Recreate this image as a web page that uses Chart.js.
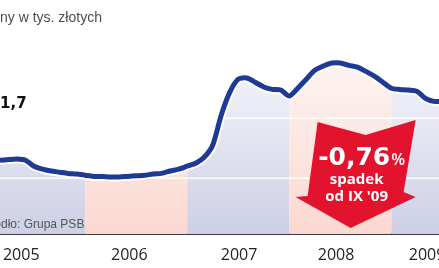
<!DOCTYPE html>
<html>
<head>
<meta charset="utf-8">
<script src="https://cdn.jsdelivr.net/npm/chart.js@4"></script>
<style>
  html, body { margin: 0; padding: 0; background: #fff; }
</style>
</head>
<body>
<canvas id="myChart" width="439" height="268"></canvas>
<script>
// x = months counted from Jan 2005 (0 = Jan 2005), y = price level
const months = [2, 3, 4, 5, 6, 7, 8, 9, 10, 11, 12, 13, 14, 15, 16, 17, 18, 19, 20, 21,
                22, 23, 24, 25, 26, 27, 28, 29, 30, 31, 32, 33, 34, 35, 36, 37, 38, 39, 40, 41,
                42, 43, 44, 45, 46, 47, 48, 49, 50, 51, 52, 53, 54]
const prices = [1.30, 1.31, 1.32, 1.30, 1.20, 1.15, 1.12, 1.10, 1.08, 1.07, 1.05, 1.03, 1.03, 1.02, 1.02, 1.03, 1.04, 1.05, 1.07, 1.08,
                1.12, 1.15, 1.20, 1.25, 1.35, 1.55, 2.05, 2.43, 2.65, 2.67, 2.60, 2.52, 2.48, 2.47, 2.37, 2.50, 2.65, 2.80, 2.87, 2.92,
                2.92, 2.88, 2.85, 2.78, 2.70, 2.60, 2.50, 2.48, 2.47, 2.45, 2.33, 2.28, 2.28]

const yearLabels = ['2005', '2006', '2007', '2008', '2009']
const yearTickPos = [4.5, 17.2, 30.1, 41.5, 52.2]
const yearBounds = [12, 24, 36, 48]
const gridValues = [1, 2]

const arrowMonth = 43.8
const arrowTexts = ['-0,76', '%', 'spadek', "od IX '09"]

const lineColor = '#1e3a94'
const lavender = ['#f5f5fa', '#cdd0e6']
const pink = ['#fdf4f2', '#fbd8d0']

const ctx = document.getElementById('myChart')

// bands + white grid lines, only under the curve
const underFill = {
  id: 'underFill',
  beforeDatasetsDraw(chart) {
    const c = chart.ctx
    const a = chart.chartArea
    const x = chart.scales.x
    const y = chart.scales.y
    const line = chart.getDatasetMeta(0).dataset
    const pts = chart.getDatasetMeta(0).data

    c.save()
    c.beginPath()
    c.rect(a.left, a.top, a.right - a.left, a.bottom - a.top)
    c.clip()

    c.save()
    c.beginPath()
    line.path(c)
    c.lineTo(pts[pts.length - 1].x, a.bottom)
    c.lineTo(pts[0].x, a.bottom)
    c.closePath()
    c.clip()

    var edges = [x.min].concat(yearBounds).concat([x.max])
    var gTop = y.getPixelForValue(3)
    for (var i = 0; i < edges.length - 1; i++) {
      var cols = (i % 2 === 0) ? lavender : pink
      var g = c.createLinearGradient(0, gTop, 0, a.bottom)
      g.addColorStop(0, cols[0])
      g.addColorStop(1, cols[1])
      c.fillStyle = g
      var x0 = x.getPixelForValue(edges[i])
      var x1 = x.getPixelForValue(edges[i + 1])
      c.fillRect(x0, a.top, x1 - x0, a.bottom - a.top)
    }

    c.strokeStyle = 'rgba(255,255,255,0.9)'
    c.lineWidth = 1.5
    gridValues.forEach(function (v) {
      var py = y.getPixelForValue(v)
      c.beginPath()
      c.moveTo(a.left, py)
      c.lineTo(a.right, py)
      c.stroke()
    })
    c.restore()

    // white halo under the blue line
    c.beginPath()
    line.path(c)
    c.lineWidth = 9
    c.lineJoin = 'round'
    c.strokeStyle = 'rgba(255,255,255,0.95)'
    c.stroke()
    c.restore()
  }
}

const labels = {
  id: 'labels',
  afterDraw(chart) {
    const c = chart.ctx
    const a = chart.chartArea
    const x = chart.scales.x
    c.save()

    // title (cut on the left like the original)
    c.font = '14px "Liberation Sans"'
    c.fillStyle = '#4d4d4d'
    c.textBaseline = 'alphabetic'
    var pre = c.measureText('Ce').width
    c.fillText('Ceny w tys. złotych', -pre, 22)

    // source
    c.font = '12px "Liberation Sans"'
    c.fillStyle = '#555'
    pre = c.measureText('Źró').width
    c.fillText('Źródło: Grupa PSB', -pre + 1, 228)

    c.font = 'bold 15px "DejaVu Sans"'
    c.fillStyle = '#111'
    c.fillText('1,7', 0, 108)

    // red arrow
    var ax = x.getPixelForValue(arrowMonth)
    var b = a.bottom
    c.fillStyle = '#e3132d'
    c.beginPath()
    c.moveTo(ax - 38, b - 112)
    c.lineTo(ax + 10, b - 99)
    c.lineTo(ax + 60, b - 114)
    c.lineTo(ax + 48, b - 42)
    c.lineTo(ax + 60, b - 37)
    c.lineTo(ax - 5, b - 6)
    c.lineTo(ax - 60, b - 37)
    c.lineTo(ax - 48, b - 38)
    c.closePath()
    c.fill()

    c.fillStyle = '#fff'
    c.font = 'bold 25px "DejaVu Sans"'
    var w1 = c.measureText(arrowTexts[0]).width
    c.font = '600 16px "Open Sans"'
    var w2 = c.measureText(arrowTexts[1]).width
    var sx = ax + 6 - (w1 + w2 + 1) / 2
    c.textAlign = 'left'
    c.font = 'bold 25px "DejaVu Sans"'
    c.fillText(arrowTexts[0], sx, b - 69)
    c.font = '600 16px "Open Sans"'
    c.fillText(arrowTexts[1], sx + w1 + 1, b - 69)

    c.textAlign = 'center'
    c.font = 'bold 15px "Open Sans"'
    c.fillText(arrowTexts[2], ax + 1, b - 50)
    c.fillText(arrowTexts[3], ax + 1, b - 33)
    c.restore()
  }
}

var points = []
for (var i = 0; i < months.length; i++) {
  points.push({ x: months[i], y: prices[i] })
}

var chart = new Chart(ctx, {
  type: 'line',
  data: {
    datasets: [{
      data: points,
      borderColor: lineColor,
      borderWidth: 5,
      borderJoinStyle: 'round',
      pointRadius: 0,
      tension: 0.25,
      fill: false
    }]
  },
  options: {
    responsive: false,
    animation: false,
    layout: { padding: 0 },
    plugins: {
      legend: { display: false },
      tooltip: { enabled: false }
    },
    scales: {
      x: {
        type: 'linear',
        min: 2,
        max: 53.6,
        grid: { display: false, drawTicks: false },
        border: { display: true, color: '#3a3a3a', width: 2 },
        ticks: {
          autoSkip: false,
          maxRotation: 0,
          padding: 12,
          color: '#222',
          font: { family: 'Open Sans', size: 16 },
          callback: function (v, i) { return yearLabels[i] }
        },
        afterBuildTicks: function (s) {
          s.ticks = yearTickPos.map(function (v) { return { value: v } })
        },
        afterFit: function (s) {
          s.height = 34
          s.paddingLeft = 0
          s.paddingRight = 0
        }
      },
      y: {
        display: false,
        min: 0.07,
        max: 3.97
      }
    }
  },
  plugins: [underFill, labels]
})
</script>
</body>
</html>
